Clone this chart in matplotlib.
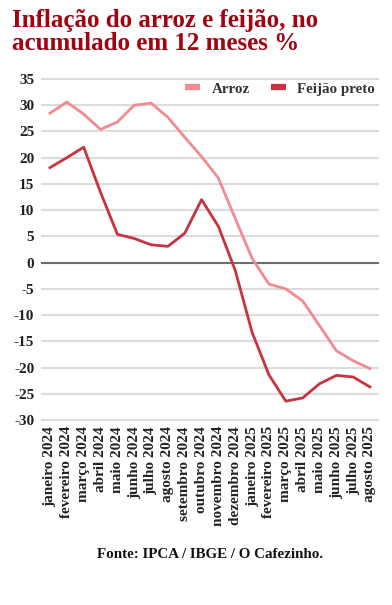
import matplotlib
matplotlib.use("Agg")
import matplotlib.pyplot as plt

# Data
meses = ["janeiro 2024", "fevereiro 2024", "março 2024", "abril 2024", "maio 2024",
         "junho 2024", "julho 2024", "agosto 2024", "setembro 2024", "outubro 2024",
         "novembro 2024", "dezembro 2024", "janeiro 2025", "fevereiro 2025", "março 2025",
         "abril 2025", "maio 2025", "junho 2025", "julho 2025", "agosto 2025"]
arroz = [28.5, 30.6, 28.3, 25.4, 26.8, 30.0, 30.4, 27.7, 23.9, 20.2,
         16.1, 8.4, 0.8, -4.1, -5.0, -7.3, -12.0, -16.8, -18.7, -20.2]
feijao = [18.1, 20.0, 22.0, 13.4, 5.4, 4.6, 3.4, 3.1, 5.6, 12.0,
          6.9, -1.5, -13.3, -21.4, -26.4, -25.8, -23.1, -21.5, -21.8, -23.7]
yticks = list(range(-30, 40, 5))

plt.rcParams['font.family'] = ['Liberation Serif', 'DejaVu Serif']
plt.rcParams['font.weight'] = 'bold'

fig = plt.figure(figsize=(3.92, 6.05), dpi=100)
W, H = 392, 605
ax = fig.add_axes([42 / W, 1 - 420 / H, (378 - 42) / W, (420 - 79) / H])

x = list(range(len(meses)))
ax.plot(x, arroz, color='#f28b8f', lw=2, label='Arroz', zorder=3)
ax.plot(x, feijao, color='#c9323f', lw=2, label='Feijão preto', zorder=3)

ax.set_xlim(-0.475, len(meses) - 1 + 0.475)
ax.set_ylim(-30, 35)
ax.set_yticks(yticks)
ax.set_yticklabels([str(v) for v in yticks])
for v in yticks:
    if v == 0:
        ax.axhline(v, color='#6e6e6e', lw=1.5, zorder=2, clip_on=False)
    else:
        ax.axhline(v, color='#dcdcdc', lw=1.5, zorder=1, clip_on=False)

ax.set_xticks(x)
ax.set_xticklabels(meses, rotation=90, va='top', ha='center')
ax.tick_params(axis='both', length=0, labelsize=11, labelcolor='#222222')
ax.tick_params(axis='y', pad=5.5)
ax.tick_params(axis='x', pad=4.5)
for s in ax.spines.values():
    s.set_visible(False)

leg = ax.legend(loc='upper right', bbox_to_anchor=(0.994, 0.995), ncol=2, frameon=False,
                fontsize=10.8, handlelength=1.0, handletextpad=0.73, columnspacing=1.4,
                borderaxespad=0.0, borderpad=0.1)
for h in leg.legend_handles:
    h.set_linewidth(4.5)
    h.set_solid_capstyle('butt')
for t in leg.get_texts():
    t.set_color('#333333')

fig.text(12 / W, 1 - 9 / H, "Inflação do arroz e feijão, no\nacumulado em 12 meses %",
         ha='left', va='top', fontsize=18, color='#a30010', linespacing=1.0)
fig.text(210 / W, 1 - 555 / H, "Fonte: IPCA / IBGE / O Cafezinho.",
         ha='center', va='center', fontsize=10.8, color='#111111')

fig.savefig("out.png", dpi=100)
